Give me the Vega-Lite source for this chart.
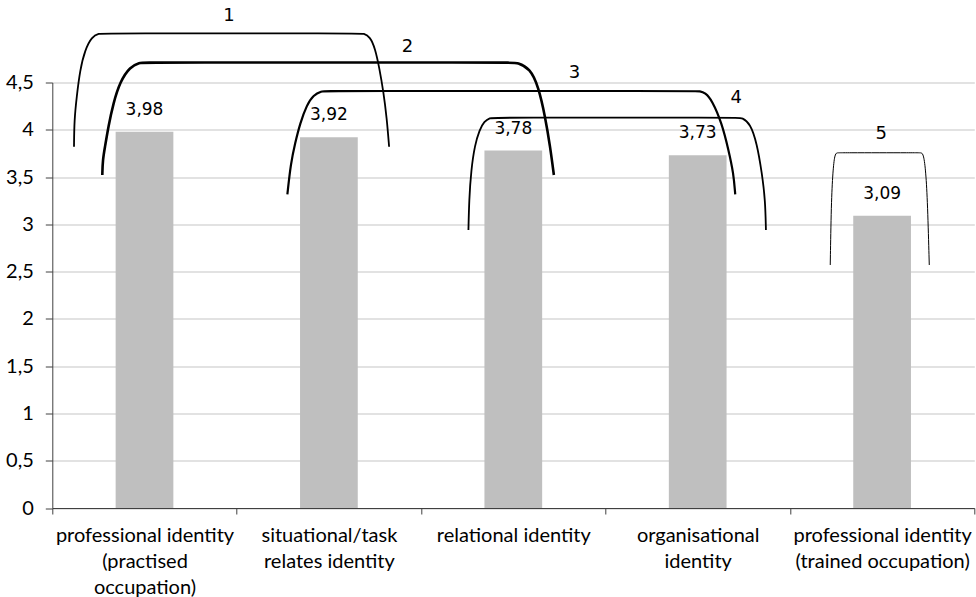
{
  "$schema": "https://vega.github.io/schema/vega-lite/v6.json",
  "autosize": {"type": "none"},
  "width": 922,
  "height": 425.5,
  "padding": {"left": 52.3, "top": 82.5, "right": 1.7, "bottom": 89},
  "background": "white",
  "config": {
    "view": {"stroke": null},
    "locale": {"number": {"decimal": ",", "thousands": ".", "grouping": [3], "currency": ["", " €"]}}
  },
  "datasets": {
    "bars": [
      {"category": "professional identity (practised occupation)", "value": 3.98},
      {"category": "situational/task relates identity", "value": 3.92},
      {"category": "relational identity", "value": 3.78},
      {"category": "organisational identity", "value": 3.73},
      {"category": "professional identity (trained occupation)", "value": 3.09}
    ],
    "brackets": [
      {"b": "1", "i": 0, "bx": 0.1177, "by": 3.821},
      {"b": "1", "i": 1, "bx": 0.1193, "by": 4.103},
      {"b": "1", "i": 2, "bx": 0.1324, "by": 4.350},
      {"b": "1", "i": 3, "bx": 0.1503, "by": 4.632},
      {"b": "1", "i": 4, "bx": 0.1774, "by": 4.843},
      {"b": "1", "i": 5, "bx": 0.2137, "by": 4.984},
      {"b": "1", "i": 6, "bx": 0.2550, "by": 5.020},
      {"b": "1", "i": 7, "bx": 0.2750, "by": 5.020},
      {"b": "1", "i": 8, "bx": 1.6671, "by": 5.020},
      {"b": "1", "i": 9, "bx": 1.6871, "by": 5.020},
      {"b": "1", "i": 10, "bx": 1.7235, "by": 4.984},
      {"b": "1", "i": 11, "bx": 1.7506, "by": 4.861},
      {"b": "1", "i": 12, "bx": 1.7739, "by": 4.650},
      {"b": "1", "i": 13, "bx": 1.7956, "by": 4.403},
      {"b": "1", "i": 14, "bx": 1.8140, "by": 4.121},
      {"b": "1", "i": 15, "bx": 1.8265, "by": 3.821},

      {"b": "2", "i": 0, "bx": 0.2712, "by": 3.522},
      {"b": "2", "i": 1, "bx": 0.2734, "by": 3.680},
      {"b": "2", "i": 2, "bx": 0.2859, "by": 3.821},
      {"b": "2", "i": 3, "bx": 0.3038, "by": 4.032},
      {"b": "2", "i": 4, "bx": 0.3309, "by": 4.280},
      {"b": "2", "i": 5, "bx": 0.3673, "by": 4.508},
      {"b": "2", "i": 6, "bx": 0.4215, "by": 4.667},
      {"b": "2", "i": 7, "bx": 0.4757, "by": 4.711},
      {"b": "2", "i": 8, "bx": 0.4957, "by": 4.711},
      {"b": "2", "i": 9, "bx": 2.4993, "by": 4.711},
      {"b": "2", "i": 10, "bx": 2.5193, "by": 4.711},
      {"b": "2", "i": 11, "bx": 2.5914, "by": 4.650},
      {"b": "2", "i": 12, "bx": 2.6364, "by": 4.455},
      {"b": "2", "i": 13, "bx": 2.6728, "by": 4.138},
      {"b": "2", "i": 14, "bx": 2.6999, "by": 3.821},
      {"b": "2", "i": 15, "bx": 2.7200, "by": 3.522},

      {"b": "3", "i": 0, "bx": 1.2748, "by": 3.317},
      {"b": "3", "i": 1, "bx": 1.2933, "by": 3.645},
      {"b": "3", "i": 2, "bx": 1.3166, "by": 3.857},
      {"b": "3", "i": 3, "bx": 1.3437, "by": 4.068},
      {"b": "3", "i": 4, "bx": 1.3801, "by": 4.262},
      {"b": "3", "i": 5, "bx": 1.4159, "by": 4.368},
      {"b": "3", "i": 6, "bx": 1.4614, "by": 4.410},
      {"b": "3", "i": 7, "bx": 1.4814, "by": 4.410},
      {"b": "3", "i": 8, "bx": 3.4898, "by": 4.410},
      {"b": "3", "i": 9, "bx": 3.5098, "by": 4.410},
      {"b": "3", "i": 10, "bx": 3.5407, "by": 4.392},
      {"b": "3", "i": 11, "bx": 3.5771, "by": 4.315},
      {"b": "3", "i": 12, "bx": 3.6313, "by": 4.068},
      {"b": "3", "i": 13, "bx": 3.6671, "by": 3.786},
      {"b": "3", "i": 14, "bx": 3.6943, "by": 3.540},
      {"b": "3", "i": 15, "bx": 3.7035, "by": 3.317},

      {"b": "4", "i": 0, "bx": 2.2567, "by": 2.940},
      {"b": "4", "i": 1, "bx": 2.2605, "by": 3.257},
      {"b": "4", "i": 2, "bx": 2.2714, "by": 3.574},
      {"b": "4", "i": 3, "bx": 2.2914, "by": 3.839},
      {"b": "4", "i": 4, "bx": 2.3164, "by": 3.997},
      {"b": "4", "i": 5, "bx": 2.3419, "by": 4.089},
      {"b": "4", "i": 6, "bx": 2.3744, "by": 4.128},
      {"b": "4", "i": 7, "bx": 2.3944, "by": 4.128},
      {"b": "4", "i": 8, "bx": 3.7198, "by": 4.128},
      {"b": "4", "i": 9, "bx": 3.7398, "by": 4.128},
      {"b": "4", "i": 10, "bx": 3.7849, "by": 4.068},
      {"b": "4", "i": 11, "bx": 3.8212, "by": 3.857},
      {"b": "4", "i": 12, "bx": 3.8483, "by": 3.540},
      {"b": "4", "i": 13, "bx": 3.8662, "by": 3.257},
      {"b": "4", "i": 14, "bx": 3.8700, "by": 2.940},

      {"b": "5", "i": 0, "bx": 4.2188, "by": 2.570},
      {"b": "5", "i": 1, "bx": 4.2243, "by": 3.222},
      {"b": "5", "i": 2, "bx": 4.2330, "by": 3.560},
      {"b": "5", "i": 3, "bx": 4.2430, "by": 3.740},
      {"b": "5", "i": 4, "bx": 4.2552, "by": 3.757},
      {"b": "5", "i": 5, "bx": 4.2652, "by": 3.757},
      {"b": "5", "i": 6, "bx": 4.7025, "by": 3.757},
      {"b": "5", "i": 7, "bx": 4.7125, "by": 3.757},
      {"b": "5", "i": 8, "bx": 4.7250, "by": 3.740},
      {"b": "5", "i": 9, "bx": 4.7370, "by": 3.560},
      {"b": "5", "i": 10, "bx": 4.7467, "by": 3.222},
      {"b": "5", "i": 11, "bx": 4.7558, "by": 2.570}
    ],
    "bracketLabels": [
      {"b": "1", "bx": 0.9586, "by": 5.203},
      {"b": "2", "bx": 1.9258, "by": 4.878},
      {"b": "3", "bx": 2.8317, "by": 4.603},
      {"b": "4", "bx": 3.7089, "by": 4.339},
      {"b": "5", "bx": 4.4955, "by": 3.952}
    ]
  },
  "resolve": {"scale": {"x": "independent"}},
  "layer": [
    {
      "data": {"name": "bars"},
      "mark": {"type": "bar", "color": "#bfbfbf", "width": {"band": 0.313}},
      "encoding": {
        "x": {
          "field": "category", "type": "nominal", "sort": null,
          "scale": {"paddingInner": 0, "paddingOuter": 0},
          "axis": {
            "title": null, "labelAngle": 0, "tickBand": "extent", "tickSize": 6,
            "domainColor": "#404040", "tickColor": "#404040", "domainWidth": 1,
            "labelFont": "Lato", "labelFontSize": 20, "labelColor": "#000000",
            "labelLineHeight": 26, "labelPadding": 11, "labelLimit": 400,
            "labelOverlap": false, "labelFlush": false, "labelBaseline": "top",
            "labelExpr": "datum.value == 'professional identity (practised occupation)' ? ['professional identity', '(practised', 'occupation)'] : datum.value == 'situational/task relates identity' ? ['situational/task', 'relates identity'] : datum.value == 'organisational identity' ? ['organisational', 'identity'] : datum.value == 'professional identity (trained occupation)' ? ['professional identity', '(trained occupation)'] : datum.value"
          }
        },
        "y": {
          "field": "value", "type": "quantitative",
          "scale": {"domain": [0, 4.5], "nice": false},
          "axis": {
            "title": null, "values": [0, 0.5, 1, 1.5, 2, 2.5, 3, 3.5, 4, 4.5],
            "grid": true, "gridColor": "#d9d9d9", "gridWidth": 1.3,
            "domainColor": "#404040", "tickColor": "#404040", "tickSize": 7,
            "labelFont": "Lato", "labelFontSize": 20, "labelColor": "#000000",
            "labelPadding": 12,
            "labelExpr": "replace(format(datum.value, '~g'), '.', ',')"
          }
        }
      }
    },
    {
      "data": {"name": "bars"},
      "mark": {"type": "text", "baseline": "alphabetic", "dy": -17, "font": "DejaVu Sans", "fontSize": 17, "color": "#000000"},
      "encoding": {
        "x": {"field": "category", "type": "nominal", "sort": null, "scale": {"paddingInner": 0, "paddingOuter": 0}, "axis": null},
        "y": {"field": "value", "type": "quantitative", "scale": {"domain": [0, 4.5], "nice": false}},
        "text": {"field": "value", "type": "quantitative", "format": ".2f"}
      }
    },
    {
      "data": {"name": "brackets"},
      "mark": {"type": "line", "interpolate": "basis", "color": "#000000", "clip": false},
      "encoding": {
        "x": {"field": "bx", "type": "quantitative", "scale": {"domain": [0, 5], "nice": false, "zero": false}, "axis": null},
        "y": {"field": "by", "type": "quantitative", "scale": {"domain": [0, 4.5], "nice": false}},
        "detail": {"field": "b", "type": "nominal"},
        "order": {"field": "i", "type": "quantitative"},
        "strokeWidth": {"field": "b", "type": "ordinal", "scale": {"type": "ordinal", "domain": ["1", "2", "3", "4", "5"], "range": [1.8, 2.6, 2.2, 1.8, 1]}, "legend": null}
      }
    },
    {
      "data": {"name": "bracketLabels"},
      "mark": {"type": "text", "baseline": "middle", "font": "DejaVu Sans", "fontSize": 18, "color": "#000000"},
      "encoding": {
        "x": {"field": "bx", "type": "quantitative", "scale": {"domain": [0, 5], "nice": false, "zero": false}, "axis": null},
        "y": {"field": "by", "type": "quantitative", "scale": {"domain": [0, 4.5], "nice": false}},
        "text": {"field": "b", "type": "nominal"}
      }
    }
  ]
}
